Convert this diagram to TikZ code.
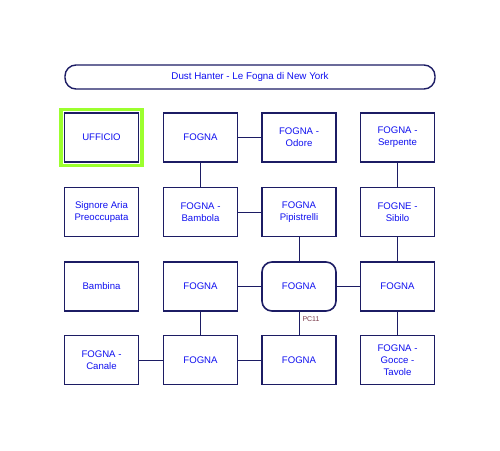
\documentclass[tikz,border=0pt]{standalone}
\usepackage{fontspec}
\setmainfont{Liberation Sans}
\begin{document}
\begin{tikzpicture}[x=1pt,y=-1pt,
  box/.style={draw=navy,line width=1.6pt,fill=white,minimum width=74pt,minimum height=49pt,
    inner sep=1pt,align=center,font=\fontsize{9.6}{12}\selectfont,text=txtblue},
  rbox/.style={box,rounded corners=10pt},
  link/.style={navy,line width=1pt}]
\definecolor{navy}{HTML}{1C1C64}
\definecolor{txtblue}{HTML}{1010F0}
\definecolor{gframe}{HTML}{9CFF2E}
\definecolor{pclab}{HTML}{7A3A4A}
\useasboundingbox (0,0) rectangle (500,450);
\fill[white] (0,0) rectangle (500,450);
% title
\node[draw=navy,line width=1.4pt,rounded corners=11pt,minimum width=370pt,minimum height=24pt,
  font=\fontsize{9.8}{11}\selectfont,text=txtblue] (title) at (250,77) {Dust Hanter - Le Fogna di New York};
% green frame
\node[draw=gframe,line width=3.5pt,minimum width=81pt,minimum height=56pt] (frame) at (101.5,137.5) {};
% row 1
\node[box] (uff) at (101.5,137.5) {UFFICIO};
\node[box] (f12) at (200.5,137.5) {FOGNA};
\node[box] (f13) at (299,137.5) {FOGNA -\\Odore};
\node[box] (f14) at (397.5,137.5) {FOGNA -\\Serpente};
% row 2
\node[box] (sig) at (101.5,212) {Signore Aria\\Preoccupata};
\node[box] (f22) at (200.5,212) {FOGNA -\\Bambola};
\node[box] (f23) at (299,212) {FOGNA\\Pipistrelli};
\node[box] (f24) at (397.5,212) {FOGNE -\\Sibilo};
% row 3
\node[box] (bam) at (101.5,286.5) {Bambina};
\node[box] (f32) at (200.5,286.5) {FOGNA};
\node[rbox] (f33) at (299,286.5) {FOGNA};
\node[box] (f34) at (397.5,286.5) {FOGNA};
% row 4
\node[box] (f41) at (101.5,360) {FOGNA -\\Canale};
\node[box] (f42) at (200.5,360) {FOGNA};
\node[box] (f43) at (299,360) {FOGNA};
\node[box] (f44) at (397.5,360) {FOGNA -\\Gocce -\\Tavole};
% links
\draw[link] (f12) -- (f13);
\draw[link] (f12) -- (f22);
\draw[link] (f22) -- (f23);
\draw[link] (f14) -- (f24);
\draw[link] (f23) -- (f33);
\draw[link] (f24) -- (f34);
\draw[link] (f32) -- (f33);
\draw[link] (f33) -- (f34);
\draw[link] (f32) -- (f42);
\draw[link] (f33) -- node[pos=0.32,right,inner sep=3pt,font=\fontsize{7}{8}\selectfont,text=pclab] {PC11} (f43);
\draw[link] (f41) -- (f42);
\draw[link] (f42) -- (f43);
\draw[link] (f34) -- (f44);
\end{tikzpicture}
\end{document}
